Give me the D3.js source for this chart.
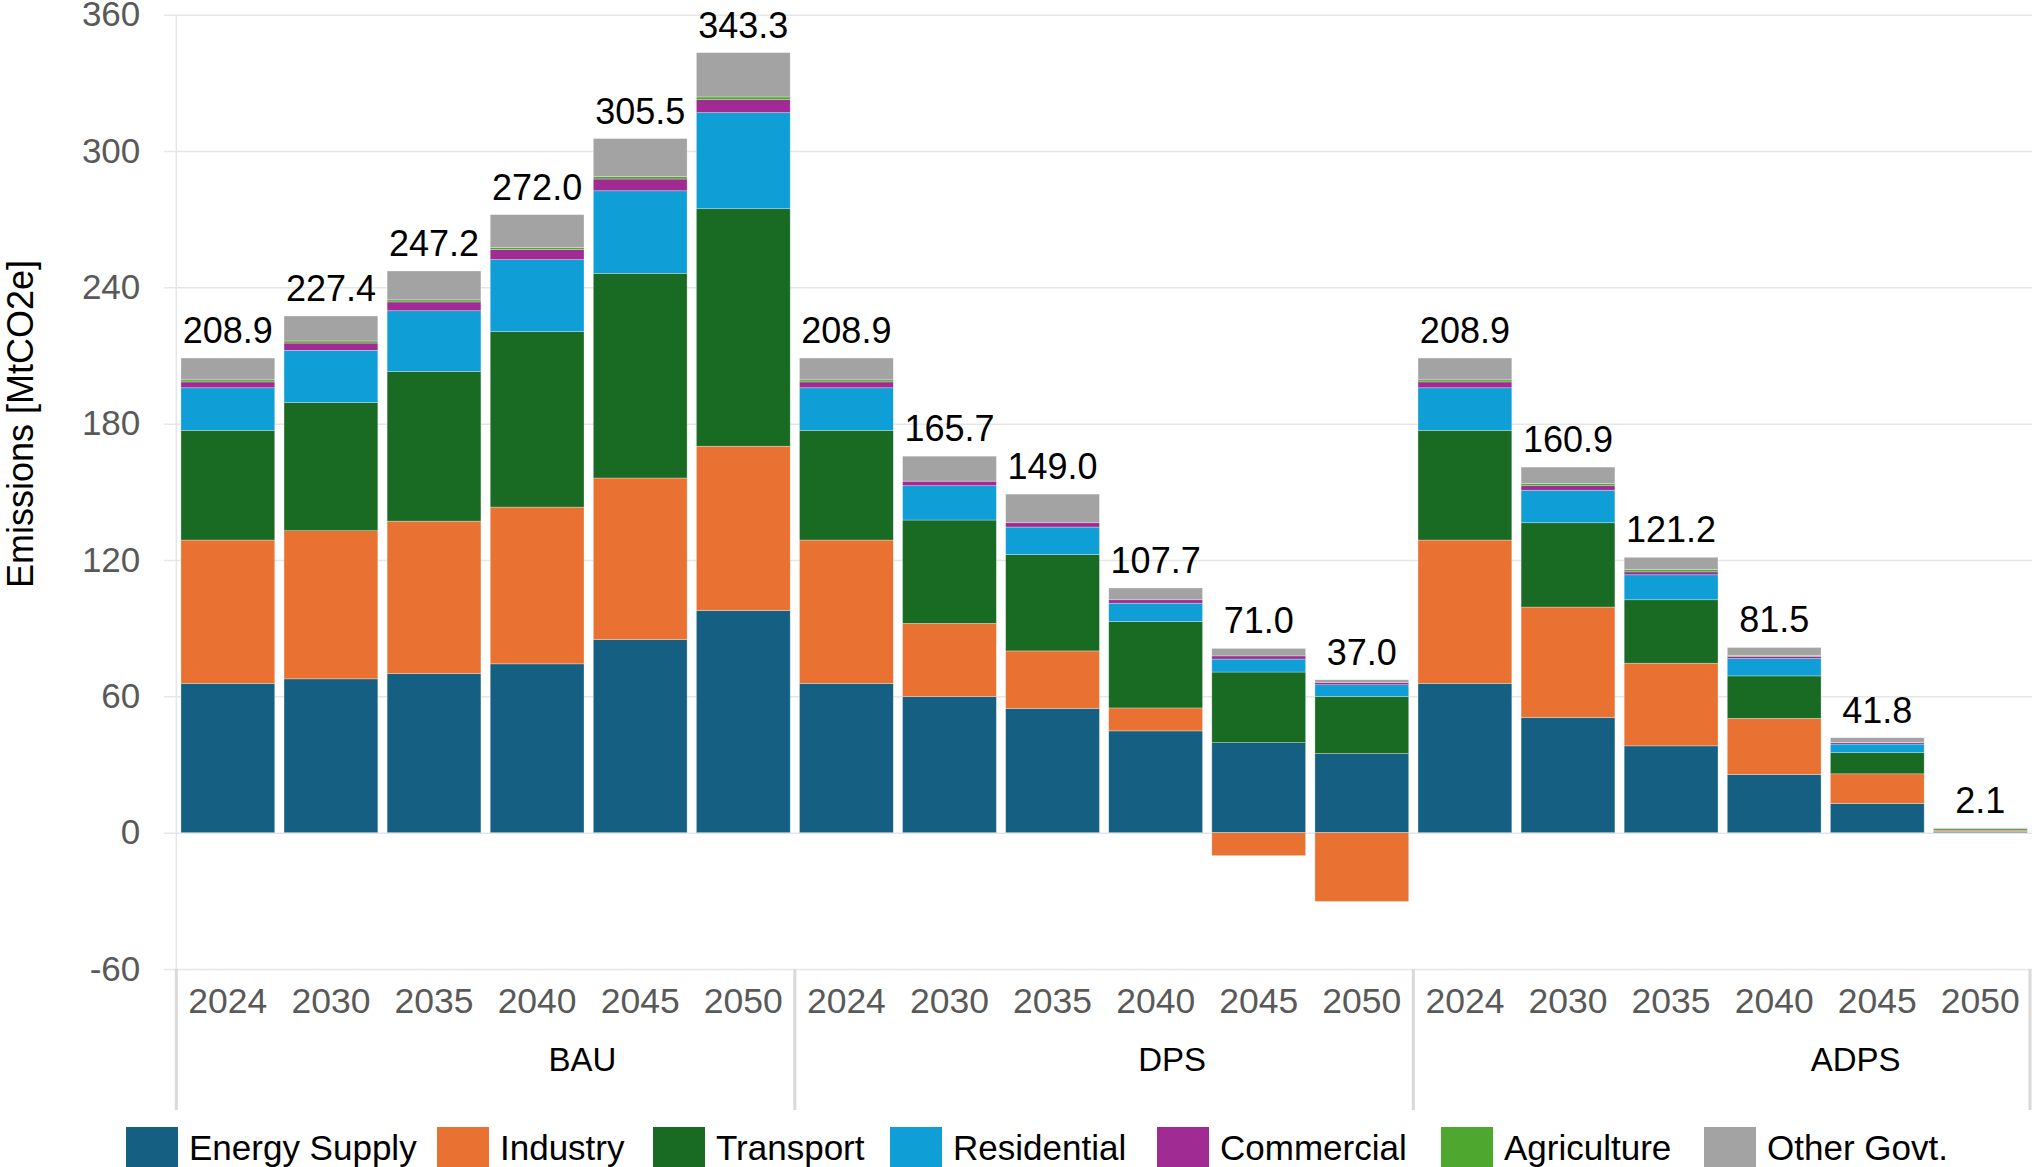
<!DOCTYPE html>
<html>
<head>
<meta charset="utf-8">
<script src="https://cdn.jsdelivr.net/npm/d3@7"></script>
<style>
  body { margin: 0; background: #fff; }
  text { font-family: "Liberation Sans", Arial, sans-serif; }
</style>
</head>
<body>
<div id="chartDiv"></div>
<script>
// scenario groups and years on the category axis
const scenarios = ["BAU", "DPS", "ADPS"];
const years = ["2024", "2030", "2035", "2040", "2045", "2050"];
const sectors = ["Energy Supply", "Industry", "Transport", "Residential", "Commercial", "Agriculture", "Other Govt."];
const sectorColors = ["#156082", "#E97132", "#196B24", "#0F9ED5", "#A02B93", "#4EA72E", "#A3A3A3"];

// values, MtCO2e (BAU x6, DPS x6, ADPS x6)
const energySupply = [65.7, 67.7, 70.0, 74.3, 85.0, 97.8, 65.7, 59.9, 54.7, 44.8, 39.6, 34.8, 65.7, 50.7, 38.2, 25.6, 12.8, 0.4];
const industry     = [63.1, 65.2, 67.1, 69.0, 71.1, 72.3, 63.1, 32.2, 25.3, 10.1, -10.1, -30.3, 63.1, 48.6, 36.4, 24.7, 13.1, 0.6];
const transport    = [48.3, 56.4, 65.9, 77.2, 90.1, 104.5, 48.3, 45.5, 42.4, 38.0, 31.1, 25.2, 48.3, 37.1, 27.9, 18.7, 9.3, 0.6];
const residential  = [18.7, 23.0, 26.7, 31.7, 36.3, 42.3, 18.7, 15.1, 12.1, 8.1, 5.7, 5.1, 18.7, 14.3, 11.0, 7.6, 3.8, 0.2];
const commercial   = [2.6, 3.2, 3.9, 4.4, 5.2, 5.7, 2.6, 2.0, 1.9, 1.5, 1.4, 1.0, 2.6, 2.0, 1.3, 1.0, 0.6, 0.1];
const agriculture  = [0.9, 0.9, 0.9, 0.9, 1.0, 1.2, 0.9, 0.0, 0.0, 0.0, 0.0, 0.0, 0.9, 1.0, 1.0, 0.4, 0.2, 0.1];
const otherGovt    = [9.6, 11.0, 12.7, 14.5, 16.8, 19.5, 9.6, 11.0, 12.6, 5.2, 3.3, 1.2, 9.6, 7.2, 5.4, 3.5, 2.0, 0.1];
const totals       = [208.9, 227.4, 247.2, 272.0, 305.5, 343.3, 208.9, 165.7, 149.0, 107.7, 71.0, 37.0, 208.9, 160.9, 121.2, 81.5, 41.8, 2.1];

const yTicks = [-60, 0, 60, 120, 180, 240, 300, 360];
// where the group names sit, in category steps from the axis
const groupLabelPos = [3.94, 9.66, 16.29];
// legend swatch left edges (excel spaced them wider than our font does)
const legendX = [126, 437, 653, 890, 1157, 1441, 1704];

const width = 2032, height = 1167;
const margin = {left: 176.3, right: 0.1, top: 14.7, bottom: 198};

const series = [energySupply, industry, transport, residential, commercial, agriculture, otherGovt];
const rows = [];
scenarios.forEach((s, si) => {
    years.forEach((yr, yi) => {
        const i = si * years.length + yi;
        const row = {i: i, scenario: s, year: yr, total: totals[i]};
        sectors.forEach((k, ki) => row[k] = series[ki][i]);
        rows.push(row);
    });
});

const svg = d3.select("#chartDiv").append("svg")
    .attr("width", width)
    .attr("height", height);

const x = d3.scaleBand()
    .domain(rows.map(d => d.i))
    .range([margin.left, width - margin.right])
    .paddingInner(0.09)
    .paddingOuter(0.045);

const y = d3.scaleLinear()
    .domain([-60, 360])
    .range([height - margin.bottom, margin.top]);

// y axis + gridlines
const yAxis = d3.axisLeft(y)
    .tickValues(yTicks)
    .tickFormat(d => String(d))   // plain hyphen like excel
    .tickSize(-(width - margin.left))
    .tickPadding(36);

const gy = svg.append("g")
    .attr("transform", `translate(${margin.left},0)`)
    .call(yAxis);
gy.select(".domain").remove();
gy.selectAll(".tick line")
    .attr("x1", -12)
    .attr("stroke", "#e6e6e6")
    .attr("stroke-width", 1.5);
gy.selectAll(".tick text")
    .attr("fill", "#595959")
    .style("font-size", "35px");

// light vertical axis line inside the plot
svg.append("line")
    .attr("x1", margin.left).attr("x2", margin.left)
    .attr("y1", y(360)).attr("y2", y(-60))
    .attr("stroke", "#e6e6e6")
    .attr("stroke-width", 1.5);

// stacked bars
const stack = d3.stack().keys(sectors).offset(d3.stackOffsetDiverging);
const stacked = stack(rows);

svg.append("g").selectAll("g")
    .data(stacked)
    .join("g")
    .attr("fill", (d, i) => sectorColors[i])
    .selectAll("rect")
    .data(d => d)
    .join("rect")
    .attr("x", d => x(d.data.i))
    .attr("width", x.bandwidth())
    .attr("y", d => y(Math.max(d[0], d[1])))
    .attr("height", d => Math.abs(y(d[0]) - y(d[1])))
    .attr("stroke", "#ffffff")
    .attr("stroke-width", 0.6)
    .attr("stroke-opacity", 0.5);

// total labels above positive stack
const posTop = rows.map(r => d3.sum(sectors, k => Math.max(0, r[k])));
svg.append("g").selectAll("text")
    .data(rows)
    .join("text")
    .attr("x", d => x(d.i) + x.bandwidth() / 2)
    .attr("y", d => y(posTop[d.i]) - 15)
    .attr("text-anchor", "middle")
    .attr("fill", "#000")
    .style("font-size", "36px")
    .text(d => d3.format(".1f")(d.total));

// category axis: years
const xAxis = d3.axisBottom(x)
    .tickSize(0)
    .tickPadding(19)
    .tickFormat(i => rows[i].year);
const gx = svg.append("g")
    .attr("transform", `translate(0,${y(-60)})`)
    .call(xAxis);
gx.select(".domain").remove();
gx.selectAll(".tick text")
    .attr("fill", "#595959")
    .style("font-size", "35.5px");

// group separators
const step = x.step();
const seps = d3.range(scenarios.length + 1).map(g => Math.min(margin.left + g * years.length * step, width - 2));
svg.append("g").selectAll("line")
    .data(seps)
    .join("line")
    .attr("x1", d => d).attr("x2", d => d)
    .attr("y1", y(-60)).attr("y2", 1110)
    .attr("stroke", "#d9d9d9")
    .attr("stroke-width", 3);

// group names
svg.append("g").selectAll("text")
    .data(scenarios)
    .join("text")
    .attr("x", (d, i) => margin.left + groupLabelPos[i] * step)
    .attr("y", 1071)
    .attr("text-anchor", "middle")
    .attr("fill", "#000")
    .style("font-size", "33px")
    .text(d => d);

// y axis title
svg.append("text")
    .attr("transform", "translate(33,424) rotate(-90)")
    .attr("text-anchor", "middle")
    .attr("fill", "#000")
    .style("font-size", "36px")
    .text("Emissions [MtCO2e]");

// legend
const legend = svg.append("g").selectAll("g")
    .data(sectors)
    .join("g")
    .attr("transform", (d, i) => `translate(${legendX[i]},1127)`);
legend.append("rect")
    .attr("width", 52).attr("height", 40)
    .attr("fill", (d, i) => sectorColors[i]);
legend.append("text")
    .attr("x", 63)
    .attr("y", 33)
    .attr("fill", "#000")
    .style("font-size", "35px")
    .text(d => d);
</script>
</body>
</html>
